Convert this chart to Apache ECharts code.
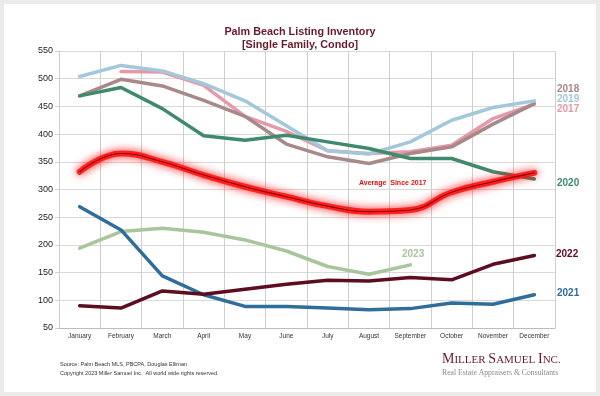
<!DOCTYPE html>
<html><head><meta charset="utf-8">
<script src="https://cdn.jsdelivr.net/npm/echarts@6/dist/echarts.min.js"></script>
<style>html,body{margin:0;padding:0;background:#ebebeb}#c{width:600px;height:396px}</style>
</head><body><div id="c"></div>
<script>
const months = ['January','February','March','April','May','June','July','August','September','October','November','December'];
const y2017 = [null, 513, 512, 488, 432, 405, 370, 365, 368, 380, 428, 454];
const y2018 = [469, 499, 487, 461, 432, 382, 359, 347, 365, 377, 418, 455];
const y2019 = [504, 524, 514, 491, 460, 415, 370, 364, 386, 425, 448, 460];
const y2020 = [469, 484, 446, 397, 389, 398, 386, 374, 356, 356, 332, 319];
const y2021 = [269, 227, 144, 110, 89, 89, 86, 83, 85, 95, 93, 110];
const y2022 = [90, 86, 117, 111, 120, 129, 136, 135, 141, 137, 165, 181];
const y2023 = [194, 224, 230, 223, 209, 189, 161, 147, 164];
const avgSince2017 = [332, 365, 350, 326, 305, 287, 270, 260, 263, 295, 314, 330];

const FONT = 'Liberation Sans';
const chart = echarts.init(document.getElementById('c'), null, {renderer:'canvas'});
function line(name, data, color, z){
  return {name, type:'line', data, symbol:'none', z: z||2,
    lineStyle:{color, width:3.5, cap:'round', join:'round'}, itemStyle:{color}};
}
function yearLabel(text, x, y, color){
  return {type:'text', left:x, top:y, style:{text, fill:color, font:'bold 10px "'+FONT+'"'}};
}
chart.setOption({
  backgroundColor:'#ebebeb',
  animation:false,
  textStyle:{fontFamily:FONT},
  title:{text:'Palm Beach Listing Inventory\n[Single Family, Condo]', left:'center', top:21,
    textStyle:{color:'#6a1a2c', fontSize:10.8, fontWeight:'bold', lineHeight:12.5, fontFamily:FONT}},
  grid:{left:59, right:45, top:51, bottom:68},
  xAxis:{type:'category', data:months, boundaryGap:true,
    axisLine:{lineStyle:{color:'#bdbdbd'}}, axisTick:{show:false},
    splitLine:{show:true, lineStyle:{color:'#cfcfcf', width:1}},
    axisLabel:{color:'#333', fontSize:6.5, margin:5, interval:0}},
  yAxis:{type:'value', min:50, max:550, interval:50,
    axisLine:{show:true, lineStyle:{color:'#cfcfcf'}},
    axisTick:{show:true, length:4, lineStyle:{color:'#cfcfcf'}},
    splitLine:{lineStyle:{color:'#d9d9d9'}},
    axisLabel:{color:'#222', fontSize:9, margin:6}},
  series:[
    line('2017', y2017, '#e49aab'),
    line('2018', y2018, '#a88888'),
    line('2019', y2019, '#a3c7db'),
    line('2020', y2020, '#3f8a6c'),
    line('2023', y2023, '#a9c59c'),
    line('2021', y2021, '#2f6d9b'),
    line('2022', y2022, '#5c0d20'),
    {name:'Average Since 2017 glow', type:'line', data:avgSince2017, symbol:'none', smooth:0.45, z:3,
      lineStyle:{color:'rgba(255,20,20,0.9)', width:6, shadowBlur:9, shadowColor:'rgba(255,0,0,1)', cap:'round'}},
    {name:'Average Since 2017', type:'line', data:avgSince2017, symbol:'none', smooth:0.45, z:4,
      lineStyle:{color:'#8a0000', width:1.1}}
  ],
  graphic:[
    {type:'rect', z:-10, shape:{x:4, y:4, width:592, height:388}, style:{fill:'#ffffff'}},
    yearLabel('2018', 557, 84, '#a88888'),
    yearLabel('2019', 557, 94, '#a3c7db'),
    yearLabel('2017', 557, 104, '#e49aab'),
    yearLabel('2020', 557, 178, '#3f8a6c'),
    yearLabel('2022', 556, 249, '#5c0d20'),
    yearLabel('2021', 557, 288, '#2f6d9b'),
    yearLabel('2023', 402, 249, '#a9c59c'),
    {type:'text', left:359, top:180, style:{text:'Average  Since 2017', fill:'#e01010', font:'bold 7px "'+FONT+'"'}},
    {type:'text', left:60, top:361, style:{text:'Source: Palm Beach MLS, PBCPA, Douglas Elliman', fill:'#333', font:'5.5px "'+FONT+'"'}},
    {type:'text', left:60, top:370, style:{text:'Copyright 2023 Miller Samuel Inc.  All world wide rights reserved.', fill:'#333', font:'5.5px "'+FONT+'"'}},
    {type:'text', left:442, top:352, style:{text:'{b|M}{s|ILLER }{b|S}{s|AMUEL }{b|I}{s|NC.}',
      rich:{b:{fontSize:14, fontFamily:'Liberation Serif', fill:'#6a1a2c', color:'#6a1a2c', verticalAlign:'bottom'},
            s:{fontSize:11, fontFamily:'Liberation Serif', fill:'#6a1a2c', color:'#6a1a2c', verticalAlign:'bottom'}}}},
    {type:'text', left:442, top:369, style:{text:'Real Estate Appraisers & Consultants', fill:'#8a8a8a', font:'7.7px "Liberation Serif"'}}
  ]
});
</script></body></html>
